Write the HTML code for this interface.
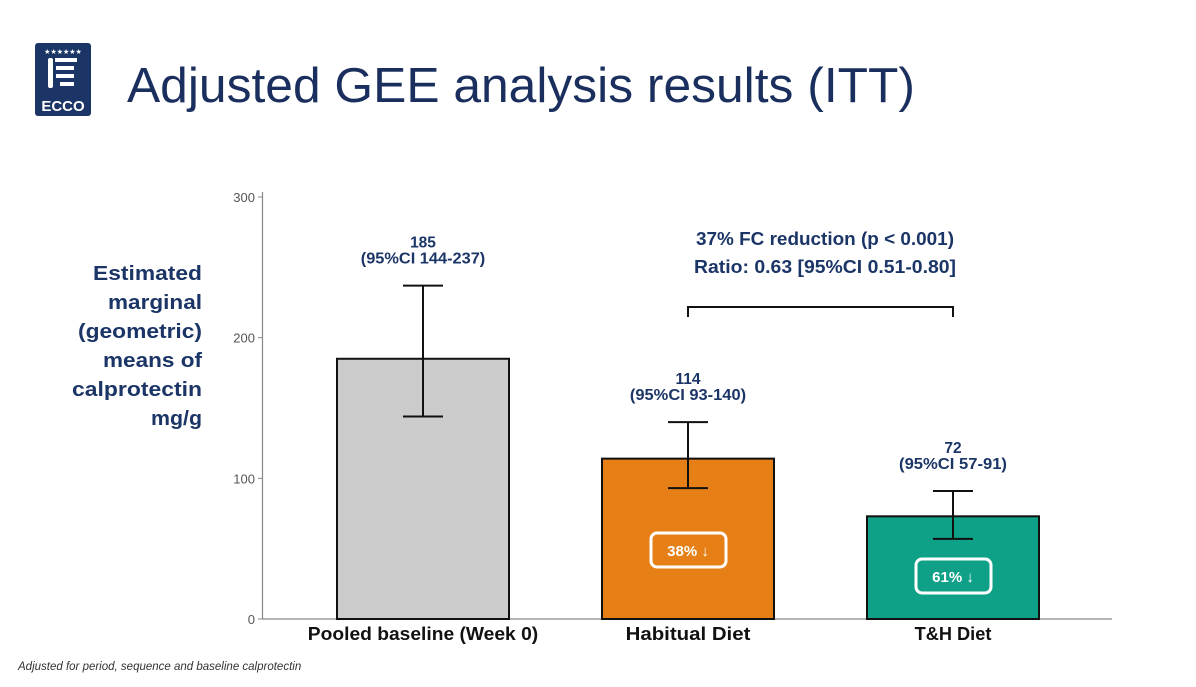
<!DOCTYPE html>
<html><head><meta charset="utf-8"><style>
body{margin:0;width:1196px;height:682px;background:#fff;overflow:hidden;font-family:"Liberation Sans",sans-serif;}
</style></head><body>
<svg width="1196" height="682" viewBox="0 0 1196 682" xmlns="http://www.w3.org/2000/svg">
<g>
<rect x="35" y="43" width="56" height="73" rx="3" fill="#1b3567"/>
<text x="63" y="111" text-anchor="middle" font-size="15" font-weight="bold" fill="#fff" font-family="Liberation Sans,sans-serif">ECCO</text>
<rect x="48" y="58" width="5" height="30" rx="2" fill="#fff"/><rect x="55" y="58" width="22" height="4" fill="#fff"/>
<rect x="56" y="66" width="18" height="4" fill="#fff"/><rect x="56" y="74" width="18" height="4" fill="#fff"/><rect x="60" y="82" width="14" height="4" fill="#fff"/>
<text x="63" y="54" text-anchor="middle" font-size="7" fill="#fff">★★★★★★</text>
</g>
<text x="127" y="102" font-size="49" fill="#1b2f5e" textLength="788" lengthAdjust="spacingAndGlyphs">Adjusted GEE analysis results (ITT)</text>
<g font-size="20" font-weight="bold" fill="#1b3567" text-anchor="end">
<text x="202" y="280" textLength="109" lengthAdjust="spacingAndGlyphs">Estimated</text><text x="202" y="309" textLength="94" lengthAdjust="spacingAndGlyphs">marginal</text><text x="202" y="338" textLength="124" lengthAdjust="spacingAndGlyphs">(geometric)</text><text x="202" y="367" textLength="99" lengthAdjust="spacingAndGlyphs">means of</text><text x="202" y="396" textLength="130" lengthAdjust="spacingAndGlyphs">calprotectin</text><text x="202" y="425" textLength="51" lengthAdjust="spacingAndGlyphs">mg/g</text>
</g>
<g id="chart"></g>
<text x="18" y="670" font-size="11.5" font-style="italic" fill="#333">Adjusted for period, sequence and baseline calprotectin</text>
</svg>
<script>
const categories=["Pooled baseline (Week 0)","Habitual Diet","T&H Diet"];
const means=[185,114,73];
const ciLow=[144,93,57];
const ciHigh=[237,140,91];
const valueLabels=["185","114","72"];
const ciLabels=["(95%CI 144-237)","(95%CI 93-140)","(95%CI 57-91)"];
const reductions=[null,"38%","61%"];
const yTicks=[0,100,200,300];
const colors=["#cccccc","#e57f16","#0fa088"];
const NS="http://www.w3.org/2000/svg";
const g=document.getElementById('chart');
const y0=619,yTop=197,yMax=300;
const y=v=>y0-(v/yMax)*(y0-yTop);
const cx=i=>423+i*265;
const bw=172;
function el(t,a,p){const e=document.createElementNS(NS,t);for(const k in a)e.setAttribute(k,a[k]);(p||g).appendChild(e);return e;}
function fit(e,w){e.setAttribute('textLength',w);e.setAttribute('lengthAdjust','spacingAndGlyphs');}
let e=el('line',{x1:262.5,y1:192,x2:262.5,y2:y0,stroke:'#888','stroke-width':1.2});


e=el('line',{x1:262,y1:y0,x2:1112,y2:y0,stroke:'#888','stroke-width':1.2});


yTicks.forEach(t=>{
 const l=el('line',{x1:258,x2:263,y1:y(t),y2:y(t),stroke:'#888'});
 
 
 const tx=el('text',{x:255,y:y(t)+5,'text-anchor':'end','font-size':13,fill:'#555'});tx.textContent=t;
 
 
});
categories.forEach((c,i)=>{
 const x=cx(i);
 const b=el('rect',{x:x-bw/2,y:y(means[i]),width:bw,height:y0-y(means[i]),fill:colors[i],stroke:'#111','stroke-width':2});
 
 
 const eb=el('path',{d:`M${x-20},${y(ciHigh[i])}H${x+20}M${x},${y(ciHigh[i])}V${y(ciLow[i])}M${x-20},${y(ciLow[i])}H${x+20}`,stroke:'#111','stroke-width':2,fill:'none'});
 
 
 const t1=el('text',{x:x,y:y(ciHigh[i])-38,'text-anchor':'middle','font-size':15.5,'font-weight':'bold',fill:'#1b3567'});t1.textContent=valueLabels[i];
 
 
 const t2=el('text',{x:x,y:y(ciHigh[i])-22,'text-anchor':'middle','font-size':15.5,'font-weight':'bold',fill:'#1b3567'});t2.textContent=ciLabels[i];
 fit(t2,ciLabels[i].length*8.3);
 
 
 const cl=el('text',{x:x,y:640,'text-anchor':'middle','font-size':18,'font-weight':'bold',fill:'#111'});cl.textContent=c;
 fit(cl,c.length*9.6);
 
 
 if(reductions[i]){
  const by=i===1?533:559;
  const r=el('rect',{x:x-37,y:by,width:75,height:34,rx:6,fill:'none',stroke:'#fff','stroke-width':3});
  
  
  const bt=el('text',{x:x,y:by+23,'text-anchor':'middle','font-size':15,'font-weight':'bold',fill:'#fff'});bt.textContent=reductions[i]+' ↓';
  
  
 }
});
const br=el('path',{d:`M${cx(1)},317V307H${cx(2)}V317`,stroke:'#111','stroke-width':2,fill:'none'});


const a1=el('text',{x:825,y:245,'text-anchor':'middle','font-size':18,'font-weight':'bold',fill:'#1b3567',textLength:258,lengthAdjust:'spacingAndGlyphs'});a1.textContent='37% FC reduction (p < 0.001)';


const a2=el('text',{x:825,y:273,'text-anchor':'middle','font-size':18,'font-weight':'bold',fill:'#1b3567',textLength:262,lengthAdjust:'spacingAndGlyphs'});a2.textContent='Ratio: 0.63 [95%CI 0.51-0.80]';


</script>
</body></html>
